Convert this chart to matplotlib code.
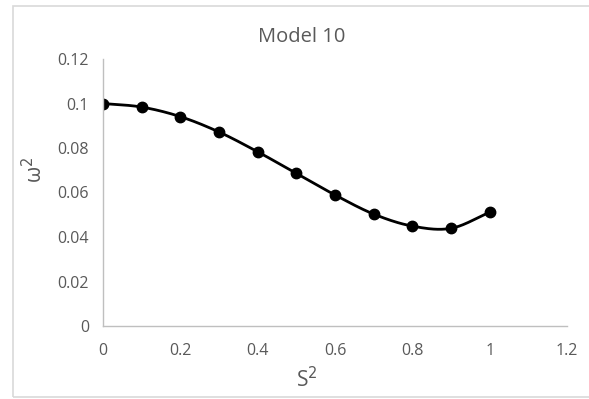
import numpy as np
import matplotlib
matplotlib.use("Agg")
import matplotlib.pyplot as plt
from matplotlib.patches import Rectangle

# S^2 values and the matching omega^2 values
s2 = [0.0, 0.1, 0.2, 0.3, 0.4, 0.5, 0.6, 0.7, 0.8, 0.9, 1.0]
omega2 = [0.1000, 0.0984, 0.0941, 0.0872, 0.0783, 0.0686, 0.0589, 0.0503, 0.0449, 0.0439, 0.0511]
xticks = [0, 0.2, 0.4, 0.6, 0.8, 1, 1.2]
yticks = [0, 0.02, 0.04, 0.06, 0.08, 0.1, 0.12]


def smooth_curve(x, y, n=30):
    # Catmull-Rom style smoothing between the points (like a spreadsheet "smoothed line")
    x = np.asarray(x, float)
    y = np.asarray(y, float)
    px = np.concatenate([[2 * x[0] - x[1]], x, [2 * x[-1] - x[-2]]])
    py = np.concatenate([[2 * y[0] - y[1]], y, [2 * y[-1] - y[-2]]])
    xs, ys = [], []
    t = np.linspace(0, 1, n)
    for i in range(1, len(px) - 2):
        for p, out in ((px, xs), (py, ys)):
            p0, p1, p2, p3 = p[i - 1], p[i], p[i + 1], p[i + 2]
            c1 = p1 + (p2 - p0) / 6
            c2 = p2 - (p3 - p1) / 6
            out.extend((1 - t) ** 3 * p1 + 3 * (1 - t) ** 2 * t * c1
                       + 3 * (1 - t) * t ** 2 * c2 + t ** 3 * p2)
    return np.array(xs), np.array(ys)


plt.rcParams['font.family'] = ['Open Sans', 'DejaVu Sans']
text_color = '#595959'

fig = plt.figure(figsize=(5.89, 3.99), dpi=100)
ax = fig.add_axes([103 / 589, 1 - 326 / 399, 464 / 589, 267 / 399])

# light frame around the chart area
fig.patches.append(Rectangle((13 / 589, 1 - 397 / 399), 580 / 589, 391 / 399,
                             transform=fig.transFigure, fill=False,
                             edgecolor='#d9d9d9', linewidth=1.2))

cx, cy = smooth_curve(s2, omega2)
ax.plot(cx, cy, color='black', linewidth=2.0, solid_capstyle='round')
ax.plot(s2, omega2, 'o', color='black', markersize=7.5)

ax.set_xlim(0, 1.2)
ax.set_ylim(0, 0.12)
ax.set_xticks(xticks)
ax.set_xticklabels([f'{v:g}' for v in xticks])
ax.set_yticks(yticks)
ax.set_yticklabels([f'{v:g}' for v in yticks])
ax.tick_params(length=0, labelsize=11.5, colors=text_color)
ax.tick_params(axis='x', pad=12)
ax.tick_params(axis='y', pad=10)

for side in ('top', 'right'):
    ax.spines[side].set_visible(False)
for side in ('left', 'bottom'):
    ax.spines[side].set_color('#bfbfbf')
    ax.spines[side].set_linewidth(1.0)

fig.text(302 / 589, 1 - 37 / 399, 'Model 10', ha='center', va='center',
         fontsize=14.5, color=text_color)
fig.text(307 / 589, 1 - 380 / 399, 'S$^2$', ha='center', va='center',
         fontsize=15, color=text_color)
fig.text(35 / 589, 1 - 170 / 399, 'ω$^2$', ha='center', va='center',
         fontsize=15, color=text_color, rotation=90)

fig.savefig('out.png', dpi=100)
